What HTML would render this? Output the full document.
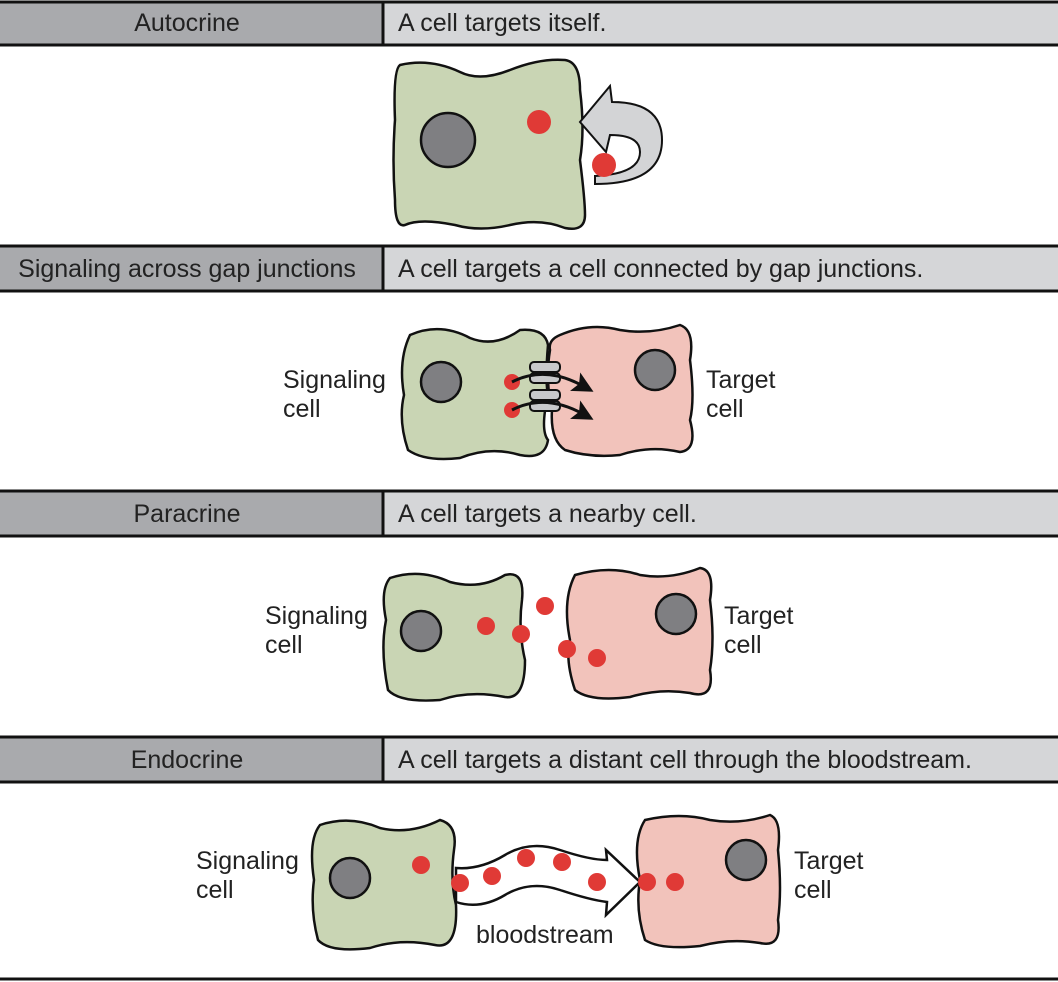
<!DOCTYPE html>
<html><head><meta charset="utf-8"><style>
body{margin:0;background:#fff;}
svg{display:block;}
text{font-family:"Liberation Sans",sans-serif;fill:#222;}
</style></head><body>
<svg width="1058" height="982" viewBox="0 0 1058 982" xmlns="http://www.w3.org/2000/svg">
<rect width="1058" height="982" fill="#fff"/>
<defs>
<marker id="ah" markerWidth="7" markerHeight="7" refX="3" refY="3.5" orient="auto" markerUnits="strokeWidth"><path d="M0,0 L7,3.5 L0,7 L1.5,3.5 Z" fill="#111"/></marker>
</defs>
<g stroke="#111" stroke-width="3">
<rect x="-2" y="2" width="385" height="43" fill="#a9aaad"/>
<rect x="383" y="2" width="680" height="43" fill="#d5d6d8"/>
<rect x="-2" y="246" width="385" height="45" fill="#a9aaad"/>
<rect x="383" y="246" width="680" height="45" fill="#d5d6d8"/>
<rect x="-2" y="491" width="385" height="45" fill="#a9aaad"/>
<rect x="383" y="491" width="680" height="45" fill="#d5d6d8"/>
<rect x="-2" y="737" width="385" height="45" fill="#a9aaad"/>
<rect x="383" y="737" width="680" height="45" fill="#d5d6d8"/>
<line x1="0" y1="979" x2="1058" y2="979"/>
</g>
<g font-size="25">
<text x="187" y="31" text-anchor="middle">Autocrine</text>
<text x="398" y="31">A cell targets itself.</text>
<text x="187" y="277" text-anchor="middle">Signaling across gap junctions</text>
<text x="398" y="277">A cell targets a cell connected by gap junctions.</text>
<text x="187" y="522" text-anchor="middle">Paracrine</text>
<text x="398" y="522">A cell targets a nearby cell.</text>
<text x="187" y="768" text-anchor="middle">Endocrine</text>
<text x="398" y="768">A cell targets a distant cell through the bloodstream.</text>
</g>
<g stroke="#111" stroke-width="2.5">
<path d="M400,65 Q430,58 460,72 Q480,82 510,70 Q540,58 565,60 Q580,62 580,90 Q585,130 580,160 Q585,200 585,215 Q585,232 565,228 Q540,218 510,225 Q480,232 455,225 Q420,218 405,225 Q395,228 395,200 Q392,160 395,120 Q393,70 400,65 Z" fill="#c9d5b4"/>
<ellipse cx="448" cy="140" rx="27" ry="27" fill="#7f7f82"/>
<path d="M595,184 Q662,184 662,140 Q662,102 612,102 L610,86 L580,122 L606,152 L610,135 Q640,135 640,152 Q640,174 595,176 Z" fill="#d3d4d6" stroke-width="2"/>
<path d="M410,335 Q440,322 470,338 Q495,348 520,330 Q545,328 548,345 Q545,380 548,395 Q540,430 548,440 Q545,460 520,455 Q490,446 460,458 Q425,462 408,450 Q398,420 404,395 Q398,360 410,335 Z" fill="#c9d5b4"/>
<path d="M560,335 Q590,322 620,330 Q650,335 680,325 Q695,330 690,360 Q695,400 690,420 Q698,450 680,452 Q650,445 620,455 Q590,458 565,450 Q550,440 552,410 Q545,380 550,350 Q548,340 560,335 Z" fill="#f2c3bb"/>
<circle cx="441" cy="382" r="20" fill="#7f7f82"/>
<circle cx="655" cy="370" r="20" fill="#7f7f82"/>
</g>
<g fill="#e03a36">
<circle cx="539" cy="122" r="12"/><circle cx="604" cy="165" r="12"/>
<circle cx="512" cy="382" r="8"/><circle cx="512" cy="410" r="8"/>
</g>
<g stroke="#111" stroke-width="2">
<rect x="530" y="362" width="30" height="10" rx="4" fill="#c8c9cb"/>
<rect x="530" y="373" width="30" height="10" rx="4" fill="#c8c9cb"/>
<rect x="530" y="390" width="30" height="10" rx="4" fill="#c8c9cb"/>
<rect x="530" y="401" width="30" height="10" rx="4" fill="#c8c9cb"/>
<path d="M512,382 Q545,365 583,386" fill="none" stroke-width="3" marker-end="url(#ah)"/>
<path d="M512,410 Q545,393 583,414" fill="none" stroke-width="3" marker-end="url(#ah)"/>
</g>
<g font-size="25">
<text x="283" y="388">Signaling</text><text x="283" y="417">cell</text>
<text x="706" y="388">Target</text><text x="706" y="417">cell</text>
<text x="265" y="624">Signaling</text><text x="265" y="653">cell</text>
<text x="724" y="624">Target</text><text x="724" y="653">cell</text>
<text x="196" y="869">Signaling</text><text x="196" y="898">cell</text>
<text x="794" y="869">Target</text><text x="794" y="898">cell</text>
<text x="476" y="943">bloodstream</text>
</g>
<g stroke="#111" stroke-width="2.5">
<path d="M390,578 Q420,568 450,582 Q480,590 505,575 Q525,570 522,600 Q518,630 525,660 Q525,700 505,697 Q470,690 440,700 Q400,703 388,690 Q380,650 386,620 Q380,590 390,578 Z" fill="#c9d5b4"/>
<path d="M575,575 Q610,565 640,575 Q670,580 700,568 Q715,570 710,600 Q715,640 710,670 Q715,700 690,693 Q660,688 630,697 Q590,702 575,690 Q565,660 570,640 Q562,600 575,575 Z" fill="#f2c3bb"/>
<circle cx="421" cy="631" r="20" fill="#7f7f82"/>
<circle cx="676" cy="614" r="20" fill="#7f7f82"/>
<path d="M320,825 Q350,815 380,828 Q410,835 440,820 Q458,825 454,850 Q450,880 456,905 Q458,950 435,945 Q400,938 370,948 Q330,953 318,940 Q310,910 314,880 Q308,840 320,825 Z" fill="#c9d5b4"/>
<path d="M645,820 Q680,812 710,820 Q740,825 770,815 Q782,820 778,850 Q782,890 778,920 Q782,948 760,943 Q730,938 700,946 Q660,950 645,940 Q635,910 640,880 Q632,840 645,820 Z" fill="#f2c3bb"/>
<circle cx="350" cy="878" r="20" fill="#7f7f82"/>
<circle cx="746" cy="860" r="20" fill="#7f7f82"/>
<path d="M456,868 Q480,870 505,855 Q530,840 560,850 Q590,860 607,860 L606,850 L640,882 L606,915 L607,902 Q590,900 560,890 Q530,880 505,895 Q480,910 456,902 Z" fill="#fff" stroke-width="2.5"/>
</g>
<g fill="#e03a36">
<circle cx="486" cy="626" r="9"/><circle cx="521" cy="634" r="9"/><circle cx="545" cy="606" r="9"/><circle cx="567" cy="649" r="9"/><circle cx="597" cy="658" r="9"/>
<circle cx="421" cy="865" r="9"/><circle cx="460" cy="883" r="9"/><circle cx="492" cy="876" r="9"/><circle cx="526" cy="858" r="9"/><circle cx="562" cy="862" r="9"/><circle cx="597" cy="882" r="9"/><circle cx="647" cy="882" r="9"/><circle cx="675" cy="882" r="9"/>
</g>
</svg>
</body></html>
